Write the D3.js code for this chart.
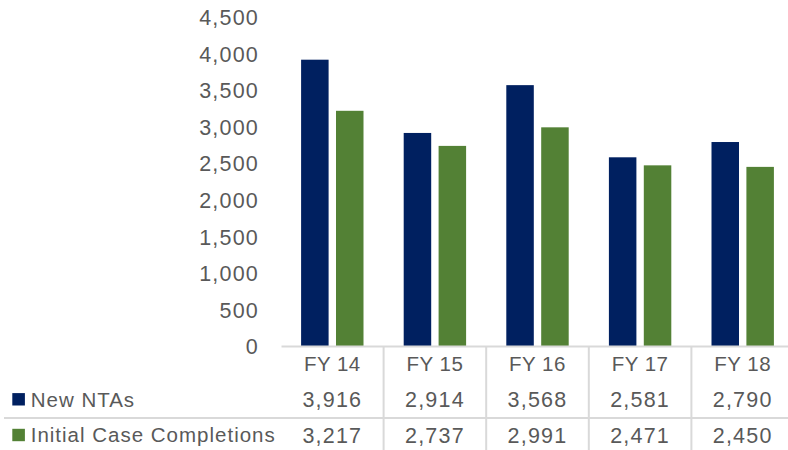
<!DOCTYPE html>
<html>
<head>
<meta charset="utf-8">
<script src="https://cdn.jsdelivr.net/npm/d3@7"></script>
<style>
  html, body { margin: 0; padding: 0; background: #fff; }
  svg { display: block; }
  text { font-family: "Liberation Sans", Arial, sans-serif; fill: #595959; }
</style>
</head>
<body>
<svg id="chart" width="788" height="450"></svg>
<script>
const categories = ["FY 14", "FY 15", "FY 16", "FY 17", "FY 18"];
const seriesNames = ["New NTAs", "Initial Case Completions"];
const newNTAs = [3916, 2914, 3568, 2581, 2790];
const initialCaseCompletions = [3217, 2737, 2991, 2471, 2450];
const seriesColors = ["#002060", "#538135"];
const yTicks = [0, 500, 1000, 1500, 2000, 2500, 3000, 3500, 4000, 4500];

const seriesValues = [newNTAs, initialCaseCompletions];
const fmt = d3.format(",");

const svg = d3.select("#chart");
const fsNum = 21.5, lsNum = 1.2;
const fsTxt = 20.5, lsTxt = 1;
const fsCat = 20.5, lsCat = 0.5;
const capOff = fs => 0.716 * fs / 2;

const plotLeft = 281, plotRight = 794, baseY = 346, topY = 17;

const x0 = d3.scaleBand().domain(categories).range([plotLeft, plotRight]).paddingInner(0).paddingOuter(0);
const groupW = 62.4;
const groupOff = (x0.bandwidth() - groupW) / 2;
const x1 = d3.scaleBand().domain(seriesNames).range([0, groupW]).paddingInner(0.212).paddingOuter(0);
const y = d3.scaleLinear().domain([0, 4500]).range([baseY, topY]);

// Y axis labels
const yAxis = d3.axisLeft(y).tickValues(yTicks).tickFormat(fmt).tickSize(0).tickPadding(0);
const yg = svg.append("g").attr("transform", "translate(259,0)").call(yAxis);
yg.select(".domain").remove();
yg.selectAll("text")
  .attr("x", 0).attr("dy", null).attr("y", capOff(fsNum))
  .style("font-size", fsNum + "px").style("letter-spacing", lsNum + "px")
  .style("font-family", '"Liberation Sans", Arial, sans-serif')
  .attr("fill", "#595959");

// Bars
const groups = svg.append("g").selectAll("g")
  .data(categories).join("g")
  .attr("transform", d => `translate(${x0(d) + groupOff},0)`);

groups.selectAll("rect")
  .data((c, i) => seriesNames.map((s, k) => ({ s, v: seriesValues[k][i], k })))
  .join("rect")
  .attr("x", d => x1(d.s))
  .attr("width", x1.bandwidth())
  .attr("y", d => y(d.v))
  .attr("height", d => y(0) - y(d.v))
  .attr("fill", d => seriesColors[d.k]);

// Baseline axis
const xAxis = d3.axisBottom(x0).tickSize(0).tickFormat("");
const xg = svg.append("g").attr("transform", `translate(0,${baseY})`).call(xAxis);
xg.select(".domain").attr("stroke", "#d9d9d9").attr("stroke-width", 1.8);
xg.selectAll(".tick").remove();

// Data table grid
const grid = svg.append("g").attr("stroke", "#d9d9d9").attr("stroke-width", 2);
categories.slice(1).forEach(c => {
  grid.append("line").attr("x1", x0(c)).attr("x2", x0(c)).attr("y1", baseY).attr("y2", 450);
});
grid.append("line").attr("x1", 4).attr("x2", 788).attr("y1", 418).attr("y2", 418);

// Category labels
const rowHeader = 363.8, row1 = 399.3, row2 = 435;
svg.append("g").selectAll("text").data(categories).join("text")
  .attr("x", d => x0(d) + x0.bandwidth() / 2)
  .attr("y", rowHeader + capOff(fsCat))
  .attr("text-anchor", "middle")
  .style("font-size", fsCat + "px").style("letter-spacing", lsCat + "px")
  .text(d => d);

// Values rows
[row1, row2].forEach((ry, k) => {
  svg.append("g").selectAll("text").data(categories).join("text")
    .attr("x", d => x0(d) + x0.bandwidth() / 2)
    .attr("y", ry + capOff(fsNum))
    .attr("text-anchor", "middle")
    .style("font-size", fsNum + "px").style("letter-spacing", lsNum + "px")
    .text((d, i) => fmt(seriesValues[k][i]));
  // legend key
  svg.append("rect").attr("x", 12.3).attr("y", ry - 6.2).attr("width", 12.6).attr("height", 12.4)
    .attr("fill", seriesColors[k]);
  svg.append("text").attr("x", 30.7).attr("y", ry + capOff(fsTxt))
    .style("font-size", fsTxt + "px").style("letter-spacing", lsTxt + "px")
    .text(seriesNames[k]);
});
</script>
</body>
</html>
